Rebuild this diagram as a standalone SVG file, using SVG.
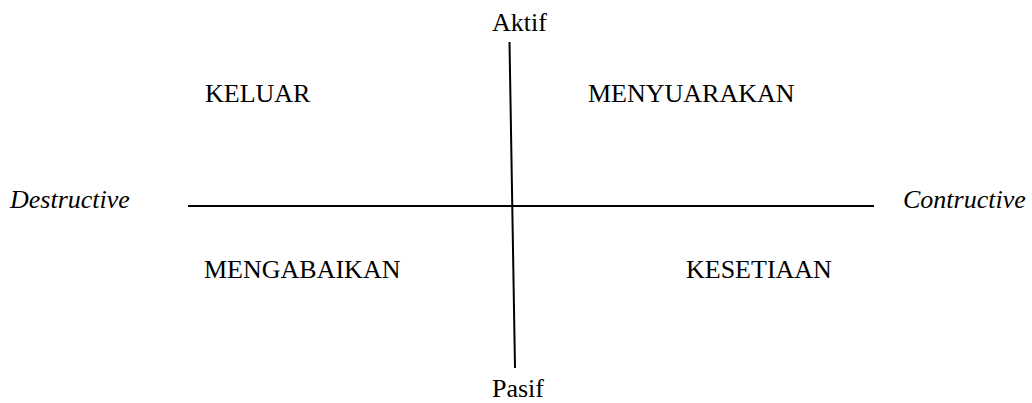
<svg xmlns="http://www.w3.org/2000/svg" width="1032" height="403" viewBox="0 0 1032 403">
<style>
text{font-family:"Liberation Serif","Times New Roman",serif;font-size:26px;fill:#000}
.it{font-style:italic}
.ax{stroke:#000;stroke-width:2;fill:none}
</style>
<rect width="1032" height="403" fill="#fff"/>
<g id="connectors">
<line class="ax" x1="188" y1="206" x2="874" y2="206"/>
<line class="ax" x1="509.5" y1="42" x2="515" y2="368"/>
</g>
<g id="aktif"><text x="492" y="31">Aktif</text></g>
<g id="pasif"><text x="492" y="397">Pasif</text></g>
<g id="destructive"><text class="it" x="10" y="208">Destructive</text></g>
<g id="contructive"><text class="it" x="903" y="208">Contructive</text></g>
<g id="keluar"><text x="205" y="102">KELUAR</text></g>
<g id="menyuarakan"><text x="588" y="102">MENYUARAKAN</text></g>
<g id="mengabaikan"><text x="204" y="278">MENGABAIKAN</text></g>
<g id="kesetiaan"><text x="686" y="278">KESETIAAN</text></g>
</svg>
